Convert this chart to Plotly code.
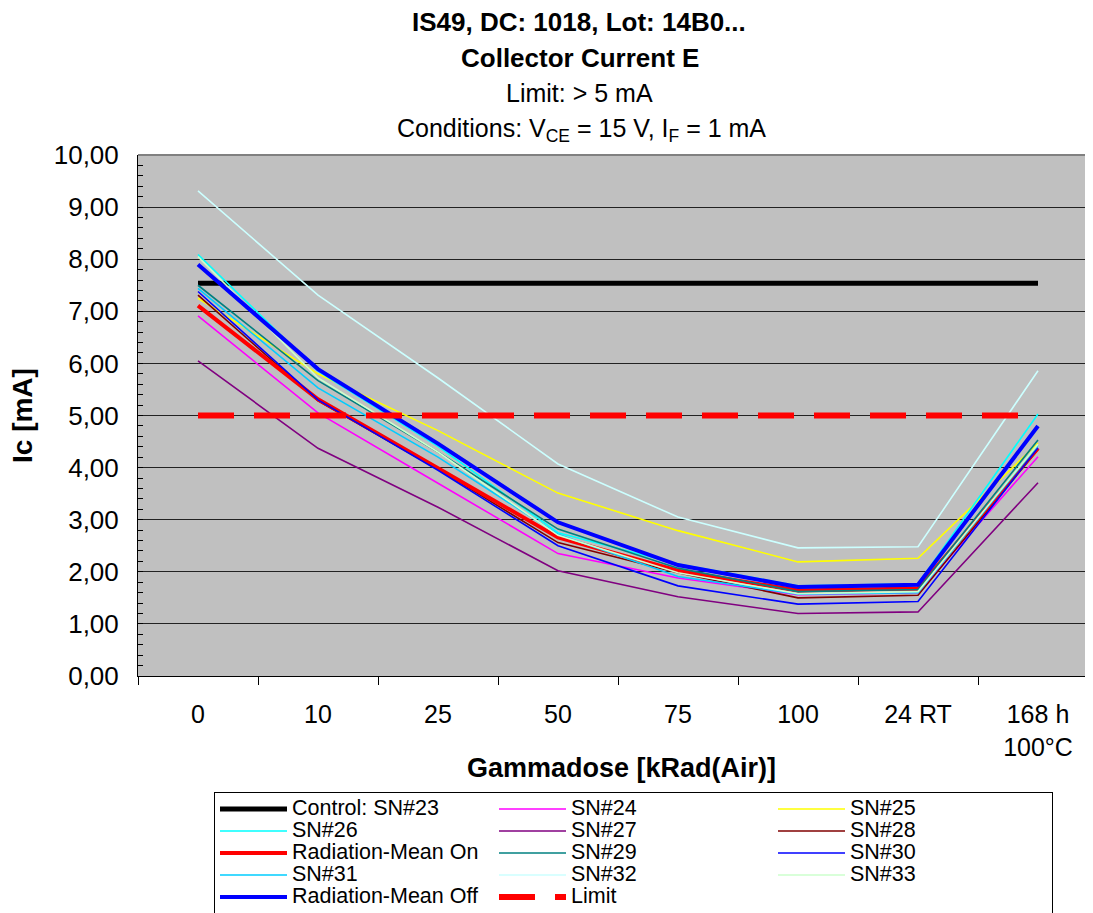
import plotly.graph_objects as go

categories = ["0", "10", "25", "50", "75", "100", "24 RT", "168 h<br>100°C"]

control_sn23 = [7.54, 7.54, 7.54, 7.54, 7.54, 7.54, 7.54, 7.54]
sn24 = [6.91, 5.05, 3.70, 2.35, 1.88, 1.56, 1.60, 4.21]
sn25 = [7.25, 5.80, 4.71, 3.51, 2.79, 2.19, 2.26, 4.47]
sn26 = [8.09, 5.85, 4.41, 2.75, 2.15, 1.73, 1.77, 5.03]
sn27 = [6.05, 4.37, 3.24, 2.02, 1.52, 1.20, 1.23, 3.71]
sn28 = [7.31, 5.28, 3.97, 2.56, 1.98, 1.50, 1.55, 4.35]
mean_on = [7.11, 5.31, 3.99, 2.66, 2.02, 1.64, 1.68, 4.37]
sn29 = [7.50, 5.67, 4.30, 2.82, 2.07, 1.62, 1.66, 4.53]
sn30 = [7.38, 5.30, 3.95, 2.50, 1.73, 1.38, 1.43, 4.38]
sn31 = [7.44, 5.53, 4.20, 2.72, 1.91, 1.57, 1.60, 4.43]
sn32 = [9.31, 7.31, 5.72, 4.07, 3.05, 2.46, 2.48, 5.86]
sn33 = [8.05, 5.72, 4.30, 2.70, 1.98, 1.58, 1.62, 4.45]
mean_off = [7.90, 5.89, 4.46, 2.95, 2.13, 1.71, 1.75, 4.80]
limit = [5.0, 5.0, 5.0, 5.0, 5.0, 5.0, 5.0, 5.0]

series = [
    ("Control: SN#23", control_sn23, "#000000", 5, "solid"),
    ("SN#24", sn24, "#FF00FF", 1.6, "solid"),
    ("SN#25", sn25, "#FFFF00", 1.6, "solid"),
    ("SN#26", sn26, "#00FFFF", 1.6, "solid"),
    ("SN#27", sn27, "#800080", 1.6, "solid"),
    ("SN#28", sn28, "#800000", 1.6, "solid"),
    ("Radiation-Mean On", mean_on, "#FF0000", 4, "solid"),
    ("SN#29", sn29, "#008080", 1.6, "solid"),
    ("SN#30", sn30, "#0000FF", 1.6, "solid"),
    ("SN#31", sn31, "#00CCFF", 1.6, "solid"),
    ("SN#32", sn32, "#CCFFFF", 1.6, "solid"),
    ("SN#33", sn33, "#CCFFCC", 1.6, "solid"),
    ("Radiation-Mean Off", mean_off, "#0000FF", 4, "solid"),
    ("Limit", limit, "#FF0000", 6, "36px,20px"),
]

fig = go.Figure()
for name, vals, color, width, dash in series:
    fig.add_trace(go.Scatter(
        x=categories, y=vals, mode="lines",
        name='<span style="font-size:21.5px">' + name + '</span>',
        line=dict(color=color, width=width, dash=dash),
    ))

FONT = "Liberation Sans, Arial, sans-serif"

# the page adds an 8px body margin; work in page pixels and convert
OFF = 8
FIG_W, FIG_H = 1093, 913
L = 138 - OFF          # plot left (figure px)
T = 155 - OFF          # plot top
B_AX = 676 - OFF       # plot bottom
R_EDGE = 1098 - OFF    # plot right
W = R_EDGE - L
PH = B_AX - T


def py(ypage):
    return (B_AX - (ypage - OFF)) / PH


def px(xpage):
    return ((xpage - OFF) - L) / W


annotations = [
    dict(text="<b>IS49, DC: 1018, Lot: 14B0...</b>", x=px(579), y=py(22), size=26),
    dict(text="<b>Collector Current E</b>", x=px(580), y=py(58), size=26),
    dict(text="Limit: > 5 mA", x=px(579), y=py(93), size=25),
    dict(text="Conditions: V<sub>CE</sub> = 15 V, I<sub>F</sub> = 1 mA", x=px(581), y=py(130), size=25),
    dict(text="<b>Gammadose [kRad(Air)]</b>", x=px(621), y=py(768), size=27),
]
ann = []
for a in annotations:
    ann.append(dict(text=a["text"], x=a["x"], y=a["y"], xref="paper", yref="paper",
                    xanchor="center", yanchor="middle", showarrow=False,
                    font=dict(family=FONT, size=a["size"], color="black")))
ann.append(dict(text="<b>Ic [mA]</b>", x=px(22), y=py(416), xref="paper", yref="paper",
                xanchor="center", yanchor="middle", showarrow=False, textangle=-90,
                font=dict(family=FONT, size=28, color="black")))

fig.update_layout(
    width=FIG_W, height=FIG_H,
    margin=dict(l=L, r=FIG_W - R_EDGE, t=T, b=FIG_H - B_AX, autoexpand=False),
    paper_bgcolor="white",
    plot_bgcolor="#C0C0C0",
    font=dict(family=FONT, color="black"),
    separators=", ",
    showlegend=True,
    legend=dict(
        orientation="h", x=px(214), xanchor="left", y=py(792), yanchor="top",
        bordercolor="black", borderwidth=1, bgcolor="white",
        font=dict(family=FONT, size=14.6, color="black"),
        itemwidth=67, entrywidth=197, entrywidthmode="pixels",
        traceorder="normal",
    ),
    annotations=ann,
    shapes=[dict(type="line", xref="paper", yref="paper", x0=0, x1=1, y0=1, y1=1,
                 line=dict(color="#808080", width=2))],
)

fig.update_xaxes(
    type="category", range=[-0.5, 7.5],
    showgrid=False, zeroline=False,
    showline=True, linecolor="black", linewidth=1,
    ticks="outside", tickson="boundaries", ticklen=8, tickcolor="black",
    tickfont=dict(family=FONT, size=25, color="black"),
    ticklabelstandoff=16,
)
fig.update_yaxes(
    range=[0, 10], dtick=1, tickformat=".2f",
    showgrid=True, gridcolor="#222222", gridwidth=1, zeroline=False,
    showline=True, linecolor="black", linewidth=1,
    ticks="inside", ticklen=5, tickcolor="black",
    minor=dict(dtick=0.2, ticks="inside", ticklen=5, tickcolor="black", showgrid=False),
    tickfont=dict(family=FONT, size=26, color="black"),
    ticklabelstandoff=13,
)

fig.write_html("out.html")
